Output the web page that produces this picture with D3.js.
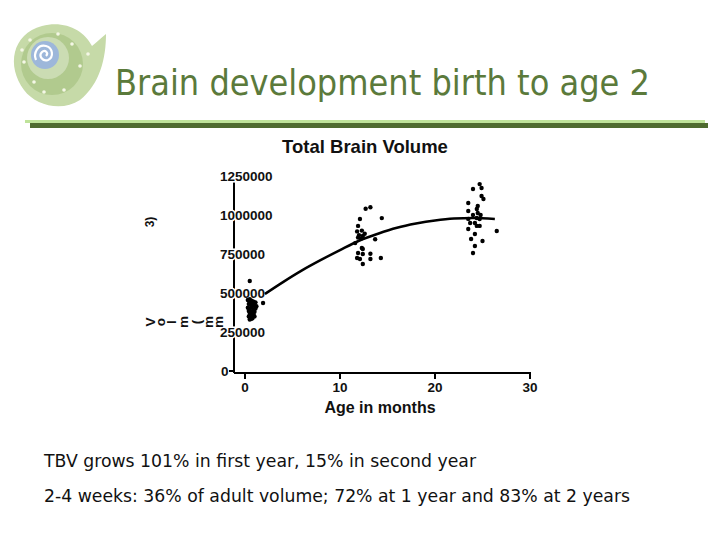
<!DOCTYPE html>
<html><head><meta charset="utf-8">
<script src="https://cdn.jsdelivr.net/npm/d3@7/dist/d3.min.js"></script>
<style>body{margin:0;background:#fff}svg{display:block}</style>
</head><body>
<script>
// ---------- data ----------
const slideTitle = "Brain development birth to age 2";
const chartTitle = "Total Brain Volume";
const xLabel = "Age in months";
const bullets = [
  "TBV grows 101% in first year, 15% in second year",
  "2-4 weeks: 36% of adult volume; 72% at 1 year and 83% at 2 years"
];
const yTicks = [0, 250000, 500000, 750000, 1000000, 1250000];
const xTicks = [0, 10, 20, 30];

// neonates (2-4 weeks)
const ageNeo = [0.3,0.5,0.7,0.9,1.1,0.4,0.6,0.8,1.0,1.2,0.3,0.5,0.7,0.9,1.1,0.4,0.6,0.8,1.0,0.5,0.7,0.9,0.4,0.6,0.8,1.0,0.5,0.7,0.6,0.8,0.5,0.7,0.9,0.5,1.9];
const volNeo = [455000,460000,450000,445000,440000,430000,425000,430000,420000,415000,405000,400000,410000,395000,400000,385000,380000,375000,380000,365000,360000,355000,350000,345000,340000,350000,330000,335000,440000,420000,390000,370000,365000,577000,436000];
// 1 year
const age1 = [12.7,13.2,12.1,14.4,11.9,11.8,12.3,11.9,12.4,12.2,13.7,11.6,12.3,12.4,11.9,12.4,11.8,12.1,13.2,13.2,14.3,12.4,12.0,12.6];
const vol1 = [1040000,1050000,974000,980000,930000,895000,900000,855000,865000,848000,845000,820000,788000,782000,756000,750000,724000,718000,752000,718000,724000,686000,870000,880000];
// 2 years
const age2 = [24.7,24.9,24.0,24.9,25.1,23.5,24.5,23.5,24.4,24.5,23.5,24.4,24.7,23.7,24.2,23.5,24.4,24.7,26.5,24.2,23.8,25.0,24.2,24.0,24.0,24.8];
const vol2 = [1198000,1173000,1167000,1122000,1103000,1077000,1058000,1026000,1038000,1013000,975000,981000,974000,949000,949000,910000,930000,930000,897000,878000,846000,833000,801000,756000,1000000,1000000];
// fitted curve
const fitAge = [2.1,4,6,8,10,12,14,16,18,20,22,24,26.3];
const fitVol = [494000,570000,645000,712000,775000,835000,880000,918000,945000,965000,977000,980000,975000];

// ---------- drawing ----------
const W = 720, H = 540;
const svg = d3.select("body").append("svg").attr("width", W).attr("height", H);

// logo
const logo = svg.append("g");
logo.append("path")
  .attr("d", "M24,90 C6,66 12,34 42,26 C64,20 84,30 92,46 C97,42 101,38 106,34 C106,58 100,84 80,100 C62,112 36,106 24,90 Z")
  .attr("fill", "#c6daa8");
logo.append("circle").attr("cx", 52).attr("cy", 64).attr("r", 31).attr("fill", "#b1ca8e");
logo.append("circle").attr("cx", 48).attr("cy", 58).attr("r", 21).attr("fill", "#cbdcb3");
logo.append("circle").attr("cx", 45).attr("cy", 55).attr("r", 14).attr("fill", "#9db7da");
logo.append("path")
  .attr("d", "M46,56 C49,53 45,49 42,52 C38,56 43,62 48,60 C54,57 53,48 46,46 C38,44 33,53 36,60")
  .attr("fill", "none").attr("stroke", "#ffffff").attr("stroke-width", 2.2);
[[30,40],[24,62],[34,82],[72,44],[80,66],[64,90],[44,92],[88,54],[22,50],[58,34]].forEach(p =>
  logo.append("circle").attr("cx", p[0]).attr("cy", p[1]).attr("r", 1.8).attr("fill", "#f4f7e6"));

// slide title
svg.append("text").attr("x", 115).attr("y", 95)
  .attr("font-family", "'DejaVu Sans',sans-serif")
  .attr("font-size", 35).attr("fill", "#5b7a3b")
  .attr("textLength", 535).attr("lengthAdjust", "spacingAndGlyphs")
  .text(slideTitle);

// rules
svg.append("rect").attr("x", 25).attr("y", 120).attr("width", 680).attr("height", 3).attr("fill", "#bfe39a");
svg.append("rect").attr("x", 30).attr("y", 123).attr("width", 678).attr("height", 5).attr("fill", "#4f6b30");

// chart
const x = d3.scaleLinear().domain([0, 30]).range([245, 530]);
const y = d3.scaleLinear().domain([0, 1250000]).range([371, 176]);
const ch = svg.append("g").attr("font-family", "Arial,'Liberation Sans',sans-serif").attr("font-weight", "bold");

ch.append("text").attr("x", 365).attr("y", 153).attr("text-anchor", "middle")
  .attr("font-size", 18.5).attr("fill", "#111").text(chartTitle);

// y axis
ch.append("line").attr("x1", 234).attr("x2", 234).attr("y1", y(1250000)).attr("y2", 373)
  .attr("stroke", "#000").attr("stroke-width", 2);
ch.selectAll(".yt").data(yTicks).enter().append("line")
  .attr("x1", 229).attr("x2", 234).attr("y1", d => y(d)).attr("y2", d => y(d))
  .attr("stroke", "#000").attr("stroke-width", 2);
ch.selectAll(".yl").data(yTicks).enter().append("text")
  .attr("x", d => d === 0 ? 221 : 220).attr("y", d => y(d) + 5)
  .attr("font-size", 13.5).attr("fill", "#111")
  .attr("stroke", d => d === 0 ? "none" : "#fff").attr("stroke-width", 3).attr("paint-order", "stroke")
  .text(d => d === 0 ? "0" : d3.format("d")(d));

// x axis
ch.append("line").attr("x1", 234).attr("x2", 531).attr("y1", 373).attr("y2", 373)
  .attr("stroke", "#000").attr("stroke-width", 2);
ch.selectAll(".xt").data(xTicks).enter().append("line")
  .attr("x1", d => x(d)).attr("x2", d => x(d)).attr("y1", 373).attr("y2", 379)
  .attr("stroke", "#000").attr("stroke-width", 2);
ch.selectAll(".xl").data(xTicks).enter().append("text")
  .attr("x", d => x(d)).attr("y", 392).attr("text-anchor", "middle")
  .attr("font-size", 13.5).attr("fill", "#111").text(d => d);
ch.append("text").attr("x", 380).attr("y", 413).attr("text-anchor", "middle")
  .attr("font-size", 16).attr("fill", "#111").text(xLabel);

// garbled y-axis label (characters rotated individually)
const yLabChars = ["V","o","l","m","(","m","m"];
const yLabX = [150,160,171,183,196,208,218];
yLabChars.forEach((c, i) => {
  ch.append("text").attr("transform", `translate(${yLabX[i]},322) rotate(-90)`)
    .attr("text-anchor", "middle").attr("dy", "0.35em")
    .attr("font-size", 13.5).attr("fill", "#111").text(c);
});
ch.append("text").attr("transform", "translate(150,222) rotate(-90)")
  .attr("text-anchor", "middle").attr("dy", "0.35em")
  .attr("font-size", 12).attr("fill", "#111").text("3)");

// fit line
ch.append("path")
  .datum(fitAge.map((a, i) => [a, fitVol[i]]))
  .attr("d", d3.line().x(d => x(d[0])).y(d => y(d[1])).curve(d3.curveMonotoneX))
  .attr("fill", "none").attr("stroke", "#000").attr("stroke-width", 2.5);

// points
const pts = [];
ageNeo.forEach((a, i) => pts.push([a, volNeo[i]]));
age1.forEach((a, i) => pts.push([a, vol1[i]]));
age2.forEach((a, i) => pts.push([a, vol2[i]]));
ch.selectAll(".pt").data(pts).enter().append("circle")
  .attr("cx", d => x(d[0])).attr("cy", d => y(d[1])).attr("r", 2.2).attr("fill", "#000");

// bullets
svg.selectAll(".bl").data(bullets).enter().append("text")
  .attr("x", 44).attr("y", (d, i) => 467 + i * 35)
  .attr("font-family", "'DejaVu Sans',sans-serif")
  .attr("font-size", 18.5).attr("fill", "#111")
  .attr("textLength", (d, i) => i === 0 ? 432 : 586).attr("lengthAdjust", "spacingAndGlyphs")
  .text(d => d);
</script>
</body></html>
